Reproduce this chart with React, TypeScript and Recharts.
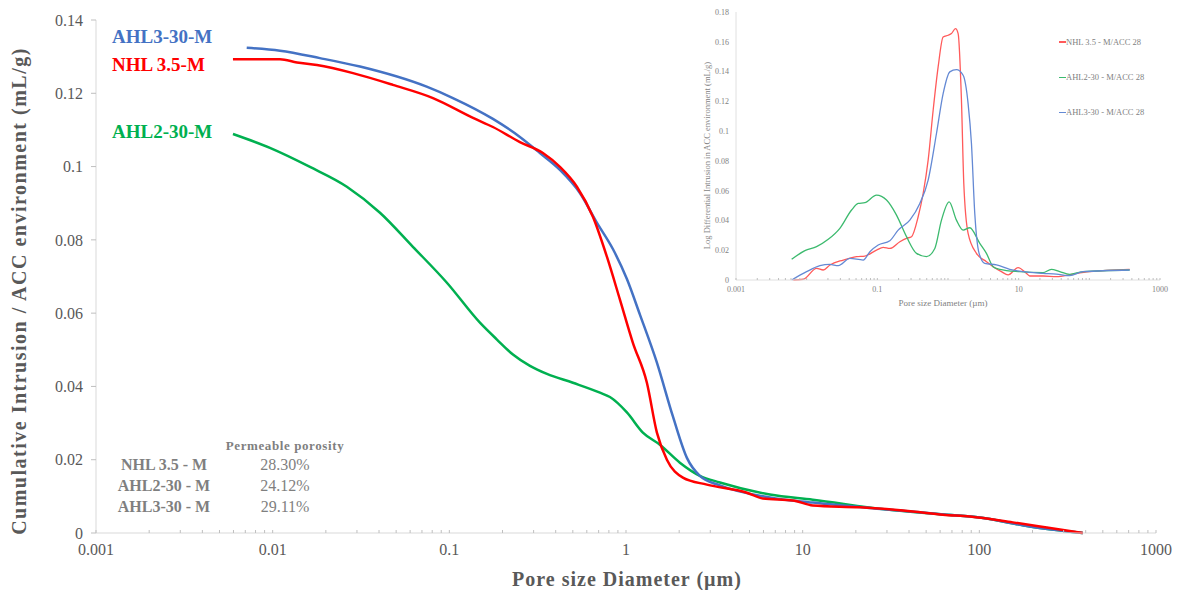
import { LineChart, Line, XAxis, YAxis } from 'recharts'

const SERIF = '"Liberation Serif", "Times New Roman", serif'
const GREY = '#595959'

// [pore diameter (µm), cumulative intrusion (mL/g)]
const nhlCumulative = [
  [0.00596, 0.1293], [0.011, 0.1293], [0.01373, 0.1284], [0.0178, 0.1277], [0.0285, 0.1255],
  [0.0479, 0.1223], [0.0808, 0.1187], [0.1361, 0.1133], [0.1765, 0.1108], [0.2509, 0.1067],
  [0.3386, 0.1037], [0.4227, 0.0999], [0.5273, 0.0945], [0.6497, 0.0863], [0.7796, 0.0754],
  [0.924, 0.0637], [1.094, 0.0519], [1.313, 0.041], [1.496, 0.0274], [1.704, 0.02],
  [2.099, 0.0151], [2.87, 0.0132], [4.833, 0.011], [5.954, 0.0094], [8.8, 0.0089],
  [11.42, 0.0075], [21.07, 0.007], [42.05, 0.0059], [62.2, 0.005], [88.4, 0.0045],
  [154.7, 0.0029], [241, 0.0015], [385, 0],
]
const ahl3Cumulative = [
  [0.00713, 0.1324], [0.011, 0.1316], [0.0185, 0.1296], [0.0312, 0.1273], [0.0744, 0.1218],
  [0.1048, 0.1187], [0.1765, 0.113], [0.2509, 0.1081], [0.3256, 0.1037], [0.4227, 0.0991],
  [0.5483, 0.0928], [0.684, 0.0847], [0.843, 0.0775], [1.012, 0.0693], [1.199, 0.0596],
  [1.496, 0.0465], [1.843, 0.0318], [2.212, 0.0205], [2.619, 0.0156], [3.4, 0.013],
  [6.52, 0.0097], [11.42, 0.0083], [29.96, 0.0064], [65.5, 0.005], [100.6, 0.0042],
  [193.1, 0.0018], [385, 0],
]
const ahl2Cumulative = [
  [0.00596, 0.1089], [0.00965, 0.1051], [0.01626, 0.0999], [0.0263, 0.0945], [0.0405, 0.0874],
  [0.0622, 0.0781], [0.0969, 0.0683], [0.149, 0.0574], [0.186, 0.0528], [0.2291, 0.0487],
  [0.286, 0.0456], [0.3568, 0.0434], [0.5006, 0.041], [0.712, 0.0383], [0.811, 0.0371],
  [1.012, 0.0329], [1.246, 0.0274], [1.555, 0.0241], [2.018, 0.0192], [2.619, 0.0156],
  [3.4, 0.0138], [6.52, 0.0105], [11.42, 0.0091], [29.96, 0.0064], [65.5, 0.005],
  [100.6, 0.0042], [193.1, 0.0018], [385, 0],
]

// [pore diameter (µm), log differential intrusion (mL/g)]
const nhlDifferential = [
  [0.00647, 0], [0.00895, 0.0005], [0.01381, 0.0078], [0.01717, 0.0067], [0.02133, 0.0101],
  [0.0329, 0.0134], [0.0508, 0.0157], [0.0666, 0.0161], [0.0974, 0.0201], [0.121, 0.0219],
  [0.1504, 0.0212], [0.2083, 0.0257], [0.2587, 0.028], [0.3045, 0.0291], [0.3782, 0.0425],
  [0.445, 0.0581], [0.5238, 0.0805], [0.6164, 0.114], [0.7253, 0.1431], [0.8535, 0.1632],
  [1.004, 0.1644], [1.119, 0.1655], [1.276, 0.1688], [1.391, 0.1655], [1.55, 0.1208],
  [1.673, 0.0648], [1.925, 0.0313], [2.526, 0.0179], [3.499, 0.0123], [4.346, 0.0089],
  [5.7, 0.0056], [7.08, 0.0034], [9.8, 0.0083], [12.86, 0.0045], [14.33, 0.0027],
  [22.13, 0.0027], [34.2, 0.0022], [58.8, 0.004], [101, 0.0056], [372, 0.0072],
]
const ahl2Differential = [
  [0.00613, 0.0139], [0.00945, 0.0197], [0.0138, 0.0224], [0.0202, 0.0273], [0.0295, 0.0347],
  [0.0432, 0.047], [0.0536, 0.0514], [0.0666, 0.0519], [0.0974, 0.057], [0.1349, 0.0537],
  [0.1868, 0.0436], [0.2587, 0.0291], [0.3583, 0.0179], [0.4962, 0.0157], [0.6506, 0.0212],
  [0.8084, 0.0402], [1.038, 0.0525], [1.317, 0.0402], [1.637, 0.0335], [2.033, 0.0351],
  [2.816, 0.0246], [3.499, 0.0179], [4.346, 0.0089], [5.4, 0.0072], [10.35, 0.0056],
  [22.13, 0.0049], [29, 0.0072], [38.1, 0.0056], [52.7, 0.0038], [81.4, 0.0056], [372, 0.0067],
]
const ahl3Differential = [
  [0.00613, 0], [0.00998, 0.0056], [0.0154, 0.0096], [0.0213, 0.0105], [0.028, 0.0096],
  [0.0409, 0.0145], [0.0631, 0.0134], [0.0785, 0.019], [0.1029, 0.0235], [0.1504, 0.0264],
  [0.1972, 0.0335], [0.2884, 0.0402], [0.3993, 0.0514], [0.5238, 0.0671], [0.6869, 0.0984],
  [0.8535, 0.1252], [1.06, 0.1398], [1.317, 0.1413], [1.637, 0.1375], [1.925, 0.1185],
  [2.147, 0.0917], [2.393, 0.0447], [2.755, 0.0179], [3.314, 0.0112], [4.844, 0.0101],
  [7.47, 0.0072], [11.54, 0.0056], [22.13, 0.0045], [34.2, 0.004], [52.7, 0.0029],
  [81.4, 0.0056], [372, 0.0067],
]

const decades = [0.001, 0.01, 0.1, 1, 10, 100, 1000]
const insetLabelled = [0.001, 0.1, 10, 1000]
const minorSteps = [1, 2, 3, 4, 5, 6, 7, 8, 9]
const mainYTicks = [0, 0.02, 0.04, 0.06, 0.08, 0.1, 0.12, 0.14]
const insetYTicks = [0, 0.02, 0.04, 0.06, 0.08, 0.1, 0.12, 0.14, 0.16, 0.18]

const seriesLabels = [
  { name: 'AHL3-30-M', color: '#4472c4', top: 26.5 },
  { name: 'NHL 3.5-M', color: '#ff0000', top: 55 },
  { name: 'AHL2-30-M', color: '#00b050', top: 121.5 },
]
const porosityNames = ['NHL 3.5 - M', 'AHL2-30 - M', 'AHL3-30 - M']
const porosityValues = ['28.30%', '24.12%', '29.11%']
const insetLegend = [
  { name: 'NHL 3.5 - M/ACC 28', color: '#ff5a5a' },
  { name: 'AHL2-30 - M/ACC 28', color: '#3cba6e' },
  { name: 'AHL3-30 - M/ACC 28', color: '#6489d4' },
]

const logTicks = decades.slice(0, -1).flatMap((d) => minorSteps.map((m) => d * m)).concat([1000])
const rows = (pts: number[][]) => pts.map(([d, v]) => ({ d, v }))

const LogTick = (props: any) => {
  const { x, y, payload, labelled, fontSize, fill, labelDy, len } = props
  const show = labelled.includes(payload.value)
  return (
    <g>
      <line x1={x} x2={x} y1={y - len} y2={y} stroke="#bfbfbf" strokeWidth={1} />
      {show && (
        <text x={x} y={y + labelDy} textAnchor="middle" fontSize={fontSize} fill={fill} fontFamily={SERIF}>
          {String(payload.value)}
        </text>
      )}
    </g>
  )
}

export default function App() {
  return (
    <div style={{ position: 'absolute', left: 0, top: 0, width: 1178, height: 590, background: '#fff', fontFamily: SERIF }}>
      <LineChart width={1178} height={590} margin={{ top: 20, right: 22, bottom: 0, left: 0 }}>
        <XAxis
          dataKey="d"
          type="number"
          scale="log"
          domain={[0.001, 1000]}
          allowDataOverflow
          ticks={logTicks}
          interval={0}
          height={57}
          tickSize={0}
          tickMargin={0}
          tickLine={false}
          axisLine={{ stroke: '#d9d9d9' }}
          tick={(p: any) => <LogTick {...p} labelled={decades} fontSize={16} fill={GREY} labelDy={22} len={3} />}
        />
        <YAxis
          type="number"
          domain={[0, 0.14]}
          ticks={mainYTicks}
          width={96}
          tickSize={5}
          tickMargin={8}
          tickLine={{ stroke: '#bfbfbf' }}
          axisLine={{ stroke: '#d9d9d9' }}
          tick={{ fill: GREY, fontSize: 16, fontFamily: SERIF }}
        />
        <Line data={rows(ahl2Cumulative)} dataKey="v" type="monotone" stroke="#00b050" strokeWidth={2.5} dot={false} isAnimationActive={false} />
        <Line data={rows(ahl3Cumulative)} dataKey="v" type="monotone" stroke="#4472c4" strokeWidth={2.5} dot={false} isAnimationActive={false} />
        <Line data={rows(nhlCumulative)} dataKey="v" type="monotone" stroke="#ff0000" strokeWidth={2.5} dot={false} isAnimationActive={false} />
      </LineChart>

      <div style={{ position: 'absolute', left: 690, top: 0 }}>
        <LineChart width={480} height={310} margin={{ top: 12, right: 10, bottom: 0, left: 0 }}>
          <XAxis
            dataKey="d"
            type="number"
            scale="log"
            domain={[0.001, 1000]}
            allowDataOverflow
            ticks={logTicks}
            interval={0}
            height={30}
            tickSize={0}
            tickMargin={0}
            tickLine={false}
            axisLine={{ stroke: '#e0e0e0' }}
            tick={(p: any) => <LogTick {...p} labelled={insetLabelled} fontSize={8} fill="#7f7f7f" labelDy={12} len={2} />}
          />
          <YAxis
            type="number"
            domain={[0, 0.18]}
            ticks={insetYTicks}
            width={46}
            tickSize={0}
            tickMargin={7}
            tickLine={false}
            axisLine={{ stroke: '#e0e0e0' }}
            tick={{ fill: '#7f7f7f', fontSize: 8, fontFamily: SERIF }}
          />
          <Line data={rows(nhlDifferential)} dataKey="v" type="monotone" stroke={insetLegend[0].color} strokeWidth={1.3} dot={false} isAnimationActive={false} />
          <Line data={rows(ahl2Differential)} dataKey="v" type="monotone" stroke={insetLegend[1].color} strokeWidth={1.3} dot={false} isAnimationActive={false} />
          <Line data={rows(ahl3Differential)} dataKey="v" type="monotone" stroke={insetLegend[2].color} strokeWidth={1.3} dot={false} isAnimationActive={false} />
        </LineChart>
      </div>

      {/* inset titles and legend */}
      <div style={{ position: 'absolute', left: 707 - 150, top: 155 - 4.5, width: 300, height: 9, lineHeight: '9px', fontSize: 8.5, color: '#7f7f7f', textAlign: 'center', transform: 'rotate(-90deg)', whiteSpace: 'nowrap' }}>
        Log Differential Intrusion in ACC environment (mL/g)
      </div>
      <div style={{ position: 'absolute', left: 943 - 100, top: 303 - 4.5, width: 200, lineHeight: '9px', fontSize: 9, color: '#7f7f7f', textAlign: 'center', whiteSpace: 'nowrap' }}>
        Pore size Diameter (µm)
      </div>
      {insetLegend.map((s, i) => (
        <div key={s.name} style={{ position: 'absolute', left: 1059, top: 42 + i * 35.3 - 4.5, lineHeight: '9px', fontSize: 8.5, color: '#7f7f7f', whiteSpace: 'nowrap', display: 'flex', alignItems: 'center' }}>
          <span style={{ display: 'inline-block', width: 7, height: 1.5, background: s.color }} />
          <span>{s.name}</span>
        </div>
      ))}

      {/* main axis titles */}
      <div style={{ position: 'absolute', left: 627 - 250, top: 579 - 10, width: 500, lineHeight: '20px', fontSize: 20, fontWeight: 'bold', letterSpacing: 1, color: GREY, textAlign: 'center', whiteSpace: 'nowrap' }}>
        Pore size Diameter (µm)
      </div>
      <div style={{ position: 'absolute', left: 18.5 - 300, top: 291 - 10, width: 600, lineHeight: '20px', fontSize: 20, fontWeight: 'bold', letterSpacing: 1.5, color: GREY, textAlign: 'center', transform: 'rotate(-90deg)', whiteSpace: 'nowrap' }}>
        Cumulative Intrusion / ACC environment (mL/g)
      </div>

      {/* series names */}
      {seriesLabels.map((s) => (
        <div key={s.name} style={{ position: 'absolute', left: 112, top: s.top, lineHeight: '19px', fontSize: 19, fontWeight: 'bold', color: s.color, whiteSpace: 'nowrap' }}>
          {s.name}
        </div>
      ))}

      {/* permeable porosity table */}
      <div style={{ position: 'absolute', left: 285 - 80, top: 445 - 6.5, width: 160, lineHeight: '13px', fontSize: 13, fontWeight: 'bold', letterSpacing: 0.6, color: '#7f7f7f', textAlign: 'center', whiteSpace: 'nowrap' }}>
        Permeable porosity
      </div>
      {porosityNames.map((n, i) => (
        <div key={n}>
          <div style={{ position: 'absolute', left: 164 - 70, top: 465 + i * 21 - 8, width: 140, lineHeight: '16px', fontSize: 16, fontWeight: 'bold', color: '#7f7f7f', textAlign: 'center', whiteSpace: 'nowrap' }}>
            {n}
          </div>
          <div style={{ position: 'absolute', left: 285 - 50, top: 465 + i * 21 - 8, width: 100, lineHeight: '16px', fontSize: 16, color: '#7f7f7f', textAlign: 'center', whiteSpace: 'nowrap' }}>
            {porosityValues[i]}
          </div>
        </div>
      ))}
    </div>
  )
}
